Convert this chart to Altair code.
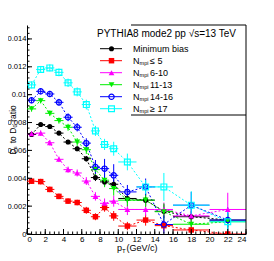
import altair as alt
import pandas as pd

# ---------------- data ----------------
pt = [0.5, 1.5, 2.5, 3.5, 4.5, 5.5, 6.5, 7.5, 8.5, 9.5, 11, 13, 15, 18, 22]
pt_halfwidth = [0.5, 0.5, 0.5, 0.5, 0.5, 0.5, 0.5, 0.5, 0.5, 0.5, 1, 1, 1, 2, 2]

keys = ["mb", "le5", "6to10", "11to13", "14to16", "ge17"]

minbias = [0.00714, 0.00786, 0.00771, 0.00724, 0.00660, 0.00612, 0.00540, 0.00405,
           0.00374, 0.00357, 0.00255, 0.00243, 0.00163, 0.00124, 0.00100]
nmpi_le5 = [0.00379, 0.00376, 0.00320, 0.00270, 0.00236, 0.00226, 0.00170, 0.00124,
            0.00190, 0.00130, 0.00057, 0.00100, 0.00060, 0.00029, 0.00000]
nmpi_6_10 = [0.00719, 0.00724, 0.00655, 0.00536, 0.00462, 0.00438, 0.00380, 0.00270,
             0.00220, 0.00236, 0.00176, 0.00176, 0.00176, 0.00130, 0.00176]
nmpi_11_13 = [0.00898, 0.00957, 0.00866, 0.00814, 0.00766, 0.00660, 0.00605, 0.00462,
              0.00386, 0.00326, 0.00243, 0.00243, 0.00160, 0.00070, 0.00088]
nmpi_14_16 = [0.00960, 0.01024, 0.01005, 0.00945, 0.00838, 0.00766, 0.00652, 0.00481,
              0.00469, 0.00421, 0.00302, 0.00338, 0.00068, 0.00207, 0.00100]
nmpi_ge17 = [0.01070, 0.01181, 0.01192, 0.01160, 0.01085, 0.01020, 0.00929, 0.00740,
             0.00643, 0.00612, 0.00517, 0.00338, 0.00338, 0.00207, 0.00088]

err_minbias = [0.00012, 0.00012, 0.00012, 0.00013, 0.00015, 0.00017, 0.00020, 0.00025,
               0.00030, 0.00035, 0.00035, 0.00040, 0.00050, 0.00040, 0.00050]
err_le5 = [0.00020, 0.00020, 0.00020, 0.00020, 0.00020, 0.00020, 0.00025, 0.00025,
           0.00030, 0.00035, 0.00030, 0.00040, 0.00040, 0.00040, 0.00040]
err_6_10 = [0.00020, 0.00020, 0.00020, 0.00020, 0.00022, 0.00025, 0.00028, 0.00030,
            0.00035, 0.00040, 0.00040, 0.00045, 0.00050, 0.00060, 0.00120]
err_11_13 = [0.00020, 0.00020, 0.00020, 0.00022, 0.00025, 0.00028, 0.00030, 0.00050,
             0.00050, 0.00050, 0.00045, 0.00050, 0.00060, 0.00040, 0.00050]
err_14_16 = [0.00022, 0.00022, 0.00022, 0.00025, 0.00028, 0.00030, 0.00035, 0.00050,
             0.00070, 0.00080, 0.00050, 0.00060, 0.00065, 0.00095, 0.00090]
err_ge17 = [0.00025, 0.00025, 0.00025, 0.00028, 0.00030, 0.00032, 0.00035, 0.00036,
            0.00040, 0.00050, 0.00060, 0.00050, 0.00100, 0.00100, 0.00090]

values = [minbias, nmpi_le5, nmpi_6_10, nmpi_11_13, nmpi_14_16, nmpi_ge17]
errors = [err_minbias, err_le5, err_6_10, err_11_13, err_14_16, err_ge17]

colors = ["#000000", "#ff0000", "#ff00ff", "#00ee00", "#0000ff", "#00ffff"]
shapes = ["circle", "square", "triangle-up", "triangle-down", "circle", "square"]
filled = [True, True, True, True, False, False]
sizes = [26, 30, 34, 34, 28, 34]

legend_main = ["Minimum bias", "N", "N", "N", "N", "N"]
legend_rest = ["", "\u2264 5", "6-10", "11-13", "14-16", "\u2265 17"]
header = "PYTHIA8 mode2 pp \u221as=13 TeV"

x_ticks_major = [0, 2, 4, 6, 8, 10, 12, 14, 16, 18, 20, 22, 24]
x_ticks_minor = [i * 0.5 for i in range(49)]
y_ticks_major = [0, 0.002, 0.004, 0.006, 0.008, 0.010, 0.012, 0.014]
y_ticks_minor = [i * 0.0004 for i in range(38)]

# ---------------- build table ----------------
rows = []
for k, vals, errs in zip(keys, values, errors):
    for x, hw, v, e in zip(pt, pt_halfwidth, vals, errs):
        rows.append({"key": k, "pt": x, "xlo": x - hw, "xhi": x + hw,
                     "ratio": v, "ylo": max(0.0, v - e), "yhi": v + e})
df = pd.DataFrame(rows)

W, H = 219, 209
FONT = "Liberation Sans"

xs = alt.Scale(domain=[0, 24], nice=False, zero=False)
ys = alt.Scale(domain=[0, 0.015], nice=False, zero=False)
cs = alt.Scale(domain=keys, range=colors)

xaxis = alt.Axis(values=x_ticks_major, format="d", ticks=False, grid=False,
                 domainColor="black", domainWidth=1, labelFontSize=8,
                 labelPadding=1, labelColor="black", labelFont=FONT, title=None)
yaxis = alt.Axis(values=y_ticks_major, format="~g", ticks=False, grid=False,
                 domainColor="black", domainWidth=1, labelFontSize=7.6,
                 labelPadding=1, labelColor="black", labelFont=FONT,
                 title="D\u209b to D\u2080 ratio", titleFont=FONT, titleFontSize=8.5,
                 titleFontWeight="normal", titleColor="black", titleAngle=270,
                 titleX=-15, titleY=H / 2, titleAlign="center", titleBaseline="middle")


def X(f):
    return alt.X(f, type="quantitative", scale=xs, axis=xaxis)


def Y(f):
    return alt.Y(f, type="quantitative", scale=ys, axis=yaxis)


color = alt.Color("key:N", scale=cs, legend=None)
base = alt.Chart(df)

layers = []
layers.append(base.mark_line(strokeDash=[2, 2], strokeWidth=1, clip=True).encode(
    x=X("pt"), y=Y("ratio"), color=color, detail="key:N", order="pt:Q"))
layers.append(base.mark_rule(strokeWidth=1, clip=True).encode(
    x=X("xlo"), x2="xhi:Q", y=Y("ratio"), color=color))
layers.append(base.mark_rule(strokeWidth=1, clip=True).encode(
    x=X("pt"), y=Y("ylo"), y2="yhi:Q", color=color))

for k, c, s, f, sz in zip(keys, colors, shapes, filled, sizes):
    sub = df[df["key"] == k]
    layers.append(alt.Chart(sub).mark_point(shape=s, filled=f, size=sz, color=c,
                                            strokeWidth=1.2, opacity=1, clip=True).encode(
        x=X("pt"), y=Y("ratio")))

# inward ticks
tx_major = pd.DataFrame({"v": x_ticks_major})
tx_minor = pd.DataFrame({"v": x_ticks_minor})
ty_major = pd.DataFrame({"v": y_ticks_major})
ty_minor = pd.DataFrame({"v": y_ticks_minor})
layers.append(alt.Chart(tx_major).mark_rule(color="black", strokeWidth=1).encode(
    x=X("v"), y=alt.value(H), y2=alt.value(H - 5)))
layers.append(alt.Chart(tx_minor).mark_rule(color="black", strokeWidth=1).encode(
    x=X("v"), y=alt.value(H), y2=alt.value(H - 2.5)))
layers.append(alt.Chart(ty_major).mark_rule(color="black", strokeWidth=1).encode(
    y=Y("v"), x=alt.value(0), x2=alt.value(5)))
layers.append(alt.Chart(ty_minor).mark_rule(color="black", strokeWidth=1).encode(
    y=Y("v"), x=alt.value(0), x2=alt.value(2.5)))

one = pd.DataFrame({"a": [0]})
# right frame edge
layers.append(alt.Chart(one).mark_rule(color="black", strokeWidth=1).encode(
    x=alt.value(W), y=alt.value(0), y2=alt.value(H)))
# legend box lines
layers.append(alt.Chart(one).mark_rule(color="black", strokeWidth=1).encode(
    x=alt.value(104), x2=alt.value(W), y=alt.value(0)))
layers.append(alt.Chart(one).mark_rule(color="black", strokeWidth=1).encode(
    x=alt.value(104), x2=alt.value(W), y=alt.value(90)))

# legend header
layers.append(alt.Chart(one).mark_text(text=header, font=FONT, fontSize=10, align="left",
                                       baseline="middle", color="black").encode(
    x=alt.value(70), y=alt.value(9)))

for i, (c, s, f, sz, main, rest) in enumerate(zip(colors, shapes, filled, sizes,
                                                  legend_main, legend_rest)):
    yy = 23.7 + 12 * i
    layers.append(alt.Chart(one).mark_rule(color=c, strokeWidth=1).encode(
        x=alt.value(73), x2=alt.value(95), y=alt.value(yy)))
    layers.append(alt.Chart(one).mark_point(shape=s, filled=f, size=sz, color=c,
                                            strokeWidth=1.2, opacity=1).encode(
        x=alt.value(84.5), y=alt.value(yy)))
    layers.append(alt.Chart(one).mark_text(text=main, font=FONT, fontSize=9, align="left",
                                           baseline="middle", color="black").encode(
        x=alt.value(106), y=alt.value(yy)))
    if rest:
        layers.append(alt.Chart(one).mark_text(text="mpi", font=FONT, fontSize=5.5,
                                               align="left", baseline="middle",
                                               color="black").encode(
            x=alt.value(112.6), y=alt.value(yy + 2.5)))
        layers.append(alt.Chart(one).mark_text(text=rest, font=FONT, fontSize=9,
                                               align="left", baseline="middle",
                                               color="black").encode(
            x=alt.value(123), y=alt.value(yy)))

# x-axis title  p_T (GeV/c)
layers.append(alt.Chart(one).mark_text(text="p", font=FONT, fontSize=9, align="left",
                                       baseline="alphabetic", color="black").encode(
    x=alt.value(90), y=alt.value(H + 16.5)))
layers.append(alt.Chart(one).mark_text(text="T", font=FONT, fontSize=6, align="left",
                                       baseline="alphabetic", color="black").encode(
    x=alt.value(95), y=alt.value(H + 18.8)))
layers.append(alt.Chart(one).mark_text(text="(GeV/c)", font=FONT, fontSize=9, align="left",
                                       baseline="alphabetic", color="black").encode(
    x=alt.value(99.5), y=alt.value(H + 16.5)))

chart = alt.layer(*layers).properties(
    width=W, height=H,
    autosize=alt.AutoSizeParams(type="none"),
    padding={"left": 19, "top": 17, "right": 20, "bottom": 19},
    background="white",
).configure_view(strokeWidth=0)

chart.save("out.html", embed_options={"renderer": "svg", "actions": False})
